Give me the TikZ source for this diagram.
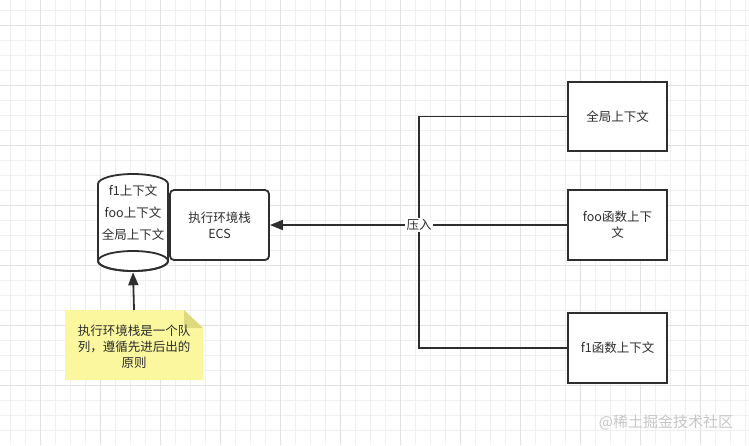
\documentclass[tikz,border=0pt]{standalone}
\usepackage{fontspec}
\setmainfont{Noto Sans CJK SC}
\usetikzlibrary{arrows.meta}
\definecolor{inkgray}{HTML}{2E2E2E}
\definecolor{minorgrid}{HTML}{EFEFEF}
\definecolor{majorgrid}{HTML}{E2E2E2}
\definecolor{notefill}{RGB}{250,247,158}
\definecolor{notefold}{RGB}{222,218,125}
\tikzset{
  conn/.style={draw=inkgray,line width=1.8pt},
  ctxbox/.style={draw=inkgray,line width=1.8pt,fill=white,minimum width=99pt,minimum height=69pt,align=center},
  lbl/.style={text=inkgray,font=\fontsize{12.5}{16}\selectfont,align=center},
  tip/.style={-{Triangle[length=13pt,width=10pt]}}
}
\begin{document}
\begin{tikzpicture}[x=1pt,y=-1pt]
\useasboundingbox (0,0) rectangle (749,445);
\fill[white] (0,0) rectangle (749,445);
\foreach \gx in {10,25,...,745} \draw[minorgrid,line width=0.8pt] (\gx,0) -- (\gx,445);
\foreach \gy in {10,25,...,440} \draw[minorgrid,line width=0.8pt] (0,\gy) -- (749,\gy);
\foreach \gx in {40,100,...,745} \draw[majorgrid,line width=0.8pt] (\gx,0) -- (\gx,445);
\foreach \gy in {25,85,...,440} \draw[majorgrid,line width=0.8pt] (0,\gy) -- (749,\gy);
\filldraw[conn,fill=white] (98,184) arc[start angle=180,end angle=360,x radius=35,y radius=10] -- (168,261) arc[start angle=0,end angle=180,x radius=35,y radius=10] -- cycle;
\draw[conn] (133,261) ellipse[x radius=35,y radius=10];
\fill[notefill] (65,310) -- (184,310) -- (203,328) -- (203,380) -- (65,380) -- cycle;
\fill[notefold] (184,310) -- (184,328) -- (203,328) -- cycle;
\node[minimum width=70pt,minimum height=98pt] (stack) at (133,223) {};
\node[lbl] (stacktext) at (133,213) {f1上下文\\[6pt]foo上下文\\[6pt]全局上下文};
\node[ctxbox,lbl,rounded corners=4pt,minimum height=70pt] (ecs) at (219.5,225) {执行环境栈\\ECS};
\node[ctxbox,lbl] (global) at (617.5,116.5) {全局上下文};
\node[ctxbox,lbl,minimum height=70pt] (foo) at (617.5,225) {foo函数上下\\文};
\node[ctxbox,lbl,minimum height=70pt] (f1) at (617.5,348) {f1函数上下文};
\node[lbl,minimum width=138pt,minimum height=70pt] (note) at (134,346.5) {执行环境栈是一个队\\列，遵循先进后出的\\原则};
\coordinate (push) at (419,225);
\draw[conn] (global.west) -| (push) |- (f1.west);
\draw[conn,tip] (foo.west) -- (ecs.east);
\draw[conn,tip] (134,310) -- (stack.south);
\node[lbl,fill=white,inner sep=1.5pt] (pushlabel) at (push) {压入};
\node[text=gray!45,font=\fontsize{15}{18}\selectfont] (mark) at (666,422) {@稀土掘金技术社区};
\end{tikzpicture}
\end{document}
